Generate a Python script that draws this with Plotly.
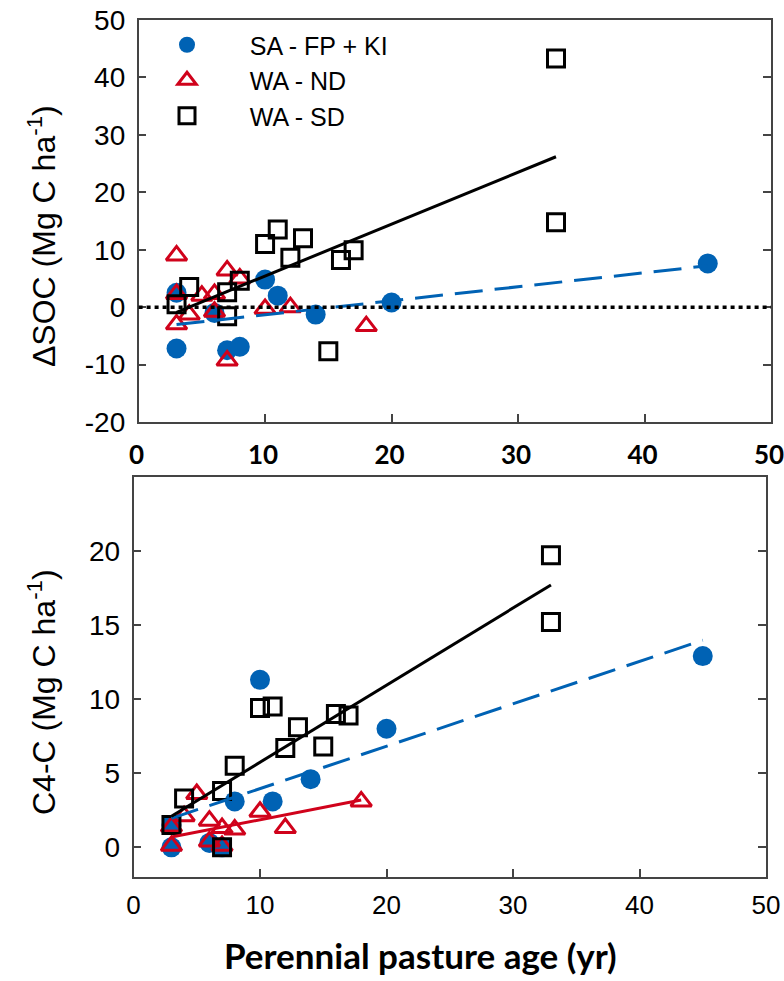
import plotly.graph_objects as go
import numpy as np

# ---------------- data ----------------
series_names = ["SA - FP + KI", "WA - ND", "WA - SD"]

# SA - FP + KI
sa_age = [3, 3, 6, 7, 8, 10, 11, 14, 20, 45]
sa_dsoc = [2.5, -7.2, -1.0, -7.5, -6.9, 4.8, 2.0, -1.3, 0.8, 7.6]
sa_age_c4 = [3, 3, 6, 7, 8, 10, 11, 14, 20, 45]
sa_c4 = [0.0, 1.5, 0.3, 0.0, 3.1, 11.3, 3.1, 4.6, 8.0, 12.9]

# WA - ND
nd_age = [3, 3, 3, 4, 5, 6, 6, 7, 7, 8, 10, 12, 18]
nd_dsoc = [9.0, 2.3, -3.0, -1.3, 2.0, 2.3, -0.8, 6.4, -9.3, 5.0, -0.3, 0.0, -3.3]
nd_age_c4 = [3, 3, 4, 5, 6, 6, 7, 7, 8, 10, 12, 18]
nd_c4 = [0.1, 1.4, 2.1, 3.6, 1.8, 0.4, 1.3, 0.1, 1.2, 2.4, 1.3, 3.1]

# WA - SD
sd_age = [3, 4, 7, 7, 8, 10, 11, 12, 13, 15, 16, 17, 33, 33]
sd_dsoc = [0.5, 3.5, 2.6, -1.6, 4.6, 11.0, 13.5, 8.6, 12.0, -7.7, 8.2, 9.9, 43.3, 14.8]
sd_c4 = [1.5, 3.3, 3.8, 0.0, 5.5, 9.4, 9.5, 6.7, 8.1, 6.8, 9.0, 8.9, 19.7, 15.2]

# fitted regression lines (intercept, slope)
sa_dsoc_fit = [-3.77, 0.244]
sd_dsoc_fit = [-3.61, 0.903]
sa_c4_fit = [1.10, 0.286]
sd_c4_fit = [0.54, 0.52]
nd_c4_fit = [0.20, 0.166]

x_ticks = [0, 10, 20, 30, 40, 50]
y_ticks_top = [-20, -10, 0, 10, 20, 30, 40, 50]
y_ticks_bottom = [0, 5, 10, 15, 20]

# ---------------- styling ----------------
BLUE = "#0062B4"
RED = "#D0021B"
BLACK = "#000000"
AX = "#444444"
W, H = 784, 981
NB = "\u00a0" * 4

fig = go.Figure()


def fit_line(xs, fit):
    xr = np.array([min(xs), max(xs)], dtype=float)
    return xr, fit[0] + fit[1] * xr


def add_markers(x, y, kind, xa, ya, show):
    if kind == 0:
        marker = dict(symbol="circle", size=20, color=BLUE, line=dict(width=0))
    elif kind == 1:
        marker = dict(symbol="triangle-up-open", size=18, color=RED, line=dict(width=3, color=RED))
    else:
        marker = dict(symbol="square-open", size=17, color=BLACK, line=dict(width=3, color=BLACK))
    fig.add_trace(go.Scatter(x=x, y=y, mode="markers", marker=marker, name=NB + series_names[kind],
                             showlegend=show, xaxis=xa, yaxis=ya, hoverinfo="skip"))


def add_fit(xs, fit, color, dash, xa, ya):
    xr, yr = fit_line(xs, fit)
    fig.add_trace(go.Scatter(x=xr, y=yr, mode="lines", line=dict(color=color, width=3, dash=dash),
                             showlegend=False, xaxis=xa, yaxis=ya, hoverinfo="skip"))


# top panel
add_markers(sa_age, sa_dsoc, 0, "x", "y", True)
add_markers(nd_age, nd_dsoc, 1, "x", "y", True)
add_markers(sd_age, sd_dsoc, 2, "x", "y", True)
add_fit(sa_age, sa_dsoc_fit, BLUE, "28px,12px", "x", "y")
add_fit(sd_age, sd_dsoc_fit, BLACK, "solid", "x", "y")

# bottom panel
add_markers(sa_age_c4, sa_c4, 0, "x2", "y2", False)
add_markers(nd_age_c4, nd_c4, 1, "x2", "y2", False)
add_markers(sd_age, sd_c4, 2, "x2", "y2", False)
add_fit(sa_age_c4, sa_c4_fit, BLUE, "28px,12px", "x2", "y2")
add_fit(sd_age, sd_c4_fit, BLACK, "solid", "x2", "y2")
add_fit(nd_age_c4, nd_c4_fit, RED, "solid", "x2", "y2")

# zero reference line in top panel
fig.add_shape(type="line", xref="x domain", yref="y", x0=0, x1=1, y0=0, y1=0,
              line=dict(color=BLACK, width=3.5, dash="4px,4px"))

axis_common = dict(showline=True, linecolor=AX, linewidth=1.5, ticks="inside", ticklen=8,
                   tickcolor=AX, tickwidth=1.5, showgrid=False, zeroline=False, automargin=False,
                   ticklabeloverflow="allow")

fig.update_layout(
    width=W, height=H,
    margin=dict(l=0, r=0, t=0, b=0, autoexpand=False),
    paper_bgcolor="white", plot_bgcolor="white",
    font=dict(family="Liberation Sans, Arial, sans-serif", color="black"),
    xaxis=dict(domain=[138.6 / W, 771 / W], range=[0, 50], tickvals=x_ticks, mirror=True,
               anchor="y", tickfont=dict(family="Lato", size=26, color="black", weight="bold"),
               ticklabelstandoff=9, ticklabelshift=-2, **axis_common),
    yaxis=dict(domain=[1 - 422 / H, 1 - 20 / H], range=[-20, 50], tickvals=y_ticks_top,
               ticktext=[str(v) for v in y_ticks_top], ticklabelstandoff=6,
               mirror="ticks", anchor="x", tickfont=dict(size=28), **axis_common),
    xaxis2=dict(domain=[133.5 / W, 766 / W], range=[0, 50], tickvals=x_ticks, mirror=True,
                anchor="y2", tickfont=dict(size=26), ticklabelstandoff=4, **axis_common),
    yaxis2=dict(domain=[1 - 877 / H, 1 - 476.7 / H], range=[-2, 25], tickvals=y_ticks_bottom,
                ticktext=[str(v) for v in y_ticks_bottom], ticklabelstandoff=6,
                mirror="ticks", anchor="x2", tickfont=dict(size=28), **axis_common),
    legend=dict(x=152 / W, y=1 - 22 / H, xanchor="left", yanchor="top", bgcolor="rgba(0,0,0,0)",
                font=dict(size=25), itemwidth=60, tracegroupgap=0),
    annotations=[
        dict(text="\u0394SOC (Mg C ha<sup>-1</sup>)", x=42 / W, y=1 - 236 / H, xref="paper", yref="paper",
             textangle=-90, showarrow=False, font=dict(size=32), xanchor="center", yanchor="middle"),
        dict(text="C4-C (Mg C ha<sup>-1</sup>)", x=42 / W, y=1 - 692 / H, xref="paper", yref="paper",
             textangle=-90, showarrow=False, font=dict(size=32), xanchor="center", yanchor="middle"),
        dict(text="<b>Perennial pasture age (yr)</b>", x=420 / W, y=1 - 955 / H, xref="paper", yref="paper",
             showarrow=False, font=dict(family="Lato", size=35), xanchor="center", yanchor="middle"),
    ],
)

fig.write_html("out.html", config={"displayModeBar": False},
               post_script="document.body.style.margin='0';document.body.style.overflow='hidden';")
